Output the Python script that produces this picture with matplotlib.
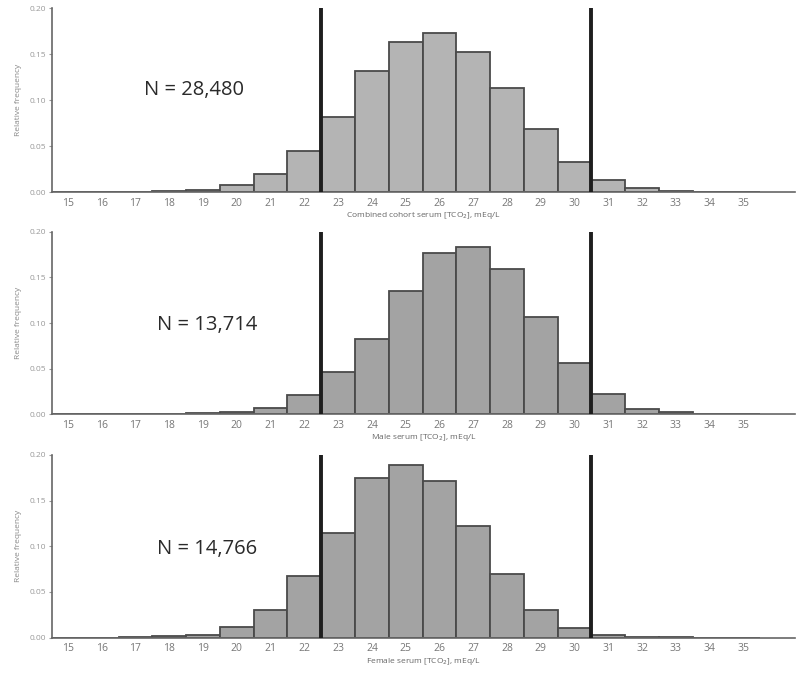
import matplotlib
matplotlib.use("Agg")
import matplotlib.pyplot as plt

plt.rcParams['font.family'] = ['Open Sans', 'DejaVu Sans']

bins = list(range(15, 36))
tick_labels = [str(b) for b in bins]

combined = [0.0, 0.0, 0.0003, 0.001, 0.002, 0.008, 0.020, 0.045, 0.082, 0.132, 0.163,
            0.173, 0.152, 0.113, 0.068, 0.033, 0.013, 0.004, 0.0015, 0.0005, 0.0003]
male = [0.0, 0.0, 0.0, 0.0003, 0.001, 0.002, 0.007, 0.021, 0.046, 0.083, 0.135,
        0.177, 0.183, 0.159, 0.107, 0.056, 0.022, 0.006, 0.002, 0.0005, 0.0003]
female = [0.0, 0.0, 0.0003, 0.002, 0.003, 0.012, 0.030, 0.067, 0.115, 0.175, 0.189,
          0.172, 0.122, 0.070, 0.030, 0.011, 0.003, 0.001, 0.0003, 0.0001, 0.0]

series = [combined, male, female]
n_labels = ["N = 28,480", "N = 13,714", "N = 14,766"]
x_labels = ["Combined cohort serum [TCO$_2$], mEq/L",
            "Male serum [TCO$_2$], mEq/L",
            "Female serum [TCO$_2$], mEq/L"]
cutoffs = [22.5, 30.5]
bar_colors = ["#b4b4b4", "#a3a3a3", "#a3a3a3"]
n_pos = [(17.25, 0.111), (17.65, 0.098), (17.65, 0.097)]

fig = plt.figure(figsize=(8, 6.73), dpi=100)
axes_rects = [
    [0.065, 0.7147, 0.929, 0.2733],
    [0.065, 0.3844, 0.929, 0.2713],
    [0.065, 0.0525, 0.929, 0.2715],
]

for i, rect in enumerate(axes_rects):
    ax = fig.add_axes(rect)
    ax.bar(bins, series[i], width=1.0, color=bar_colors[i], edgecolor="#4a4a4a",
           linewidth=1.3, zorder=2)
    for c in cutoffs:
        ax.plot([c, c], [0, 0.2], color="#1e1e1e", linewidth=2.8, zorder=3,
                solid_capstyle="butt")
    ax.set_xlim(14.53, 36.53)
    ax.set_ylim(0, 0.2)
    ax.set_xticks(bins)
    ax.set_xticklabels(tick_labels)
    ax.set_yticks([0, 0.05, 0.10, 0.15, 0.20])
    ax.set_yticklabels(["0.00", "0.05", "0.10", "0.15", "0.20"])
    ax.tick_params(axis='x', length=0, pad=4, labelsize=7.5, colors="#777777")
    ax.tick_params(axis='y', length=2.5, width=0.8, pad=2, labelsize=6,
                   colors="#999999")
    for s in ["top", "right"]:
        ax.spines[s].set_visible(False)
    for s in ["left", "bottom"]:
        ax.spines[s].set_color("#666666")
        ax.spines[s].set_linewidth(1.2)
    ax.set_ylabel("Relative frequency", fontsize=6, color="#888888", labelpad=5)
    ax.set_xlabel(x_labels[i], fontsize=6, color="#666666", labelpad=1)
    ax.text(n_pos[i][0], n_pos[i][1], n_labels[i], fontsize=14.5, color="#2a2a2a",
            ha="left", va="center")

fig.savefig("out.png", dpi=100)
